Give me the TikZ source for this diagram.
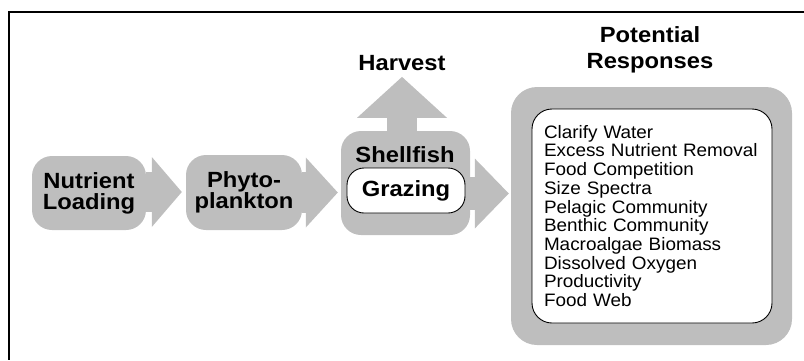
\documentclass[tikz,border=0pt]{standalone}
\usepackage{fontspec}
\setmainfont{Liberation Sans}
\newfontfamily\boxfont[FakeStretch=1.08]{Liberation Sans}
\newfontfamily\listfont[FakeStretch=1.05]{Liberation Sans}
\definecolor{shellgray}{RGB}{190, 190, 190}
\usetikzlibrary{
    arrows.meta,
    positioning,
    calc
}
\tikzset{
    graybox/.style={fill=shellgray, rounded corners=20pt, inner sep=0pt, align=center,
        font=\boxfont\bfseries\fontsize{22}{21}\selectfont},
    whitebox/.style={draw=black, fill=white, line width=0.9pt, inner sep=0pt},
    boldlabel/.style={inner sep=0pt, align=center, font=\boxfont\bfseries\fontsize{22}{26}\selectfont},
    flowarrow/.style={draw=shellgray, line cap=butt}
}

\begin{document}
\begin{tikzpicture}[x=1pt, y=-1pt]
    \useasboundingbox (0,0) rectangle (804,360);
    % frame
    \draw[line width=1.3pt] (804,12) -- (9,12) -- (9,360);

    % flow boxes
    \node[graybox, minimum width=114pt, minimum height=74pt] (nutrient) at (89,193) {Nutrient\\Loading};
    \node[graybox, minimum width=116pt, minimum height=75pt] (phyto) at (244,192.5) {Phyto-\\plankton};
    \node[graybox, minimum width=129pt, minimum height=104pt] (shellfish) at (405.5,183) {};
    \node[boldlabel] (shelltext) at (405,155) {Shellfish};
    \node[whitebox, rounded corners=17pt, minimum width=118pt, minimum height=45pt,
        font=\boxfont\bfseries\fontsize{22}{21}\selectfont] (grazing) at (406,190.5) {Grazing};

    % responses
    \node[graybox, rounded corners=26pt, minimum width=281pt, minimum height=258pt] (responses) at (651.5,216) {};
    \node[whitebox, rounded corners=20pt, minimum width=240pt, minimum height=214pt,
        inner xsep=12pt, text width=216pt, align=left,
        font=\listfont\fontsize{18}{18.7}\selectfont] (effects) at (652,216)
        {Clarify Water\\Excess Nutrient Removal\\Food Competition\\Size Spectra\\Pelagic Community\\Benthic Community\\Macroalgae Biomass\\Dissolved Oxygen\\Productivity\\Food Web};
    \node[boldlabel] (title) at (650,49.5) {Potential\\Responses};
    \node[boldlabel] (harvest) at (402,63) {Harvest};

    % block arrows
    \draw[flowarrow, line width=40pt, shorten >=4pt, -{Triangle[length=30pt, width=70pt, line width=0pt]}]
        (nutrient.east |- 0,192) -- (phyto.west |- 0,192);
    \draw[flowarrow, line width=41pt, shorten >=3pt, -{Triangle[length=32pt, width=70pt, line width=0pt]}]
        (phyto.east |- 0,192.5) -- (shellfish.west |- 0,192.5);
    \draw[flowarrow, line width=33pt, shorten >=2pt, -{Triangle[length=34pt, width=70pt, line width=0pt]}]
        (shellfish.east |- 0,193.5) -- (responses.west |- 0,193.5);
    \draw[flowarrow, line width=30pt, shorten >=6pt, -{Triangle[length=41pt, width=90pt, line width=0pt]}]
        (harvest.south |- shellfish.north) -- (harvest.south);
\end{tikzpicture}
\end{document}
